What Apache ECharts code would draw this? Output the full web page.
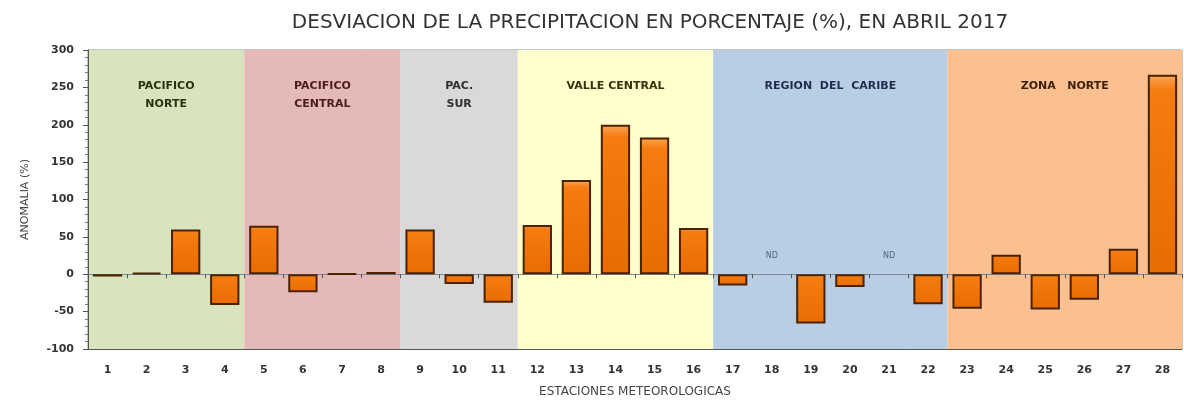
<!DOCTYPE html>
<html>
<head>
<meta charset="utf-8">
<script src="https://cdn.jsdelivr.net/npm/echarts@6/dist/echarts.min.js"></script>
<style>
html, body { margin: 0; padding: 0; background: #fff; }
#chart { width: 1184px; height: 401px; }
</style>
</head>
<body>
<div id="chart"></div>
<script>
// desviacion de la precipitacion (%) por estacion, abril 2017
var estaciones = [];
for (var i = 1; i <= 28; i++) estaciones.push(String(i));

var anomalia = [-3, 2, 60, -41, 65, -24, 1, 3, 60, -13, -38, 66, 126, 200, 183, 62,
                -15, null, -66, -17, null, -40, -46, 26, -47, -34, 34, 267];

// estaciones sin dato
var sinDato = ['18', '21'];
var sinDatoAltura = 25;

// regiones: indice inicial y final (0-based) de estaciones
var regionInicio = [0, 4, 8, 11, 16, 22];
var regionFin = [3, 7, 10, 15, 21, 27];
var regionLinea1 = ['PACIFICO', 'PACIFICO', 'PAC.', 'VALLE CENTRAL', 'REGION  DEL  CARIBE', 'ZONA   NORTE'];
var regionLinea2 = ['NORTE', 'CENTRAL', 'SUR', '', '', ''];
var regionColor = ['#d7e4bd', '#e5b9b7', '#d9d9d9', '#ffffcc', '#b9cde5', '#fac090'];
var regionTexto = ['#27330f', '#4a1c1c', '#2e2e2e', '#3a2e0e', '#1f2d4a', '#3a1e08'];

var chart = echarts.init(document.getElementById('chart'));

option = {
    title: {
        text: 'DESVIACION DE LA PRECIPITACION EN PORCENTAJE (%), EN ABRIL 2017',
        left: 645,
        textAlign: 'center',
        top: 8,
        textStyle: { fontFamily: 'DejaVu Sans', fontSize: 20, fontWeight: 'normal', color: '#333' }
    },
    grid: {
        left: 88, right: 2, top: 50, bottom: 52,
        outerBoundsMode: 'none',
        show: true, borderColor: '#8a8a8a', borderWidth: 1, backgroundColor: 'transparent'
    },
    xAxis: [{
        type: 'category',
        data: estaciones,
        position: 'bottom',
        name: 'ESTACIONES METEOROLOGICAS',
        nameLocation: 'middle',
        nameGap: 37,
        nameTextStyle: { fontFamily: 'DejaVu Sans', fontSize: 12, color: '#444' },
        axisLine: { onZero: false, lineStyle: { color: '#555', width: 1 } },
        axisTick: { show: false },
        axisLabel: { margin: 16, fontFamily: 'DejaVu Sans', fontWeight: 'bold', fontSize: 11, color: '#333' }
    }, {
        type: 'category',
        data: estaciones,
        position: 'bottom',
        axisLine: { onZero: true, lineStyle: { color: '#7d8a99', width: 1 } },
        axisTick: { show: true, length: 4, inside: false, lineStyle: { color: '#555' } },
        axisLabel: { show: false }
    }],
    yAxis: {
        type: 'value',
        min: -100, max: 300, interval: 50,
        name: 'ANOMALIA (%)',
        nameLocation: 'middle',
        nameGap: 57,
        nameTextStyle: { fontFamily: 'DejaVu Sans', fontSize: 11, color: '#444' },
        axisLine: { show: true, lineStyle: { color: '#555' } },
        axisTick: { show: true, length: 5, lineStyle: { color: '#555' } },
        minorTick: { show: true, splitNumber: 5, length: 3, lineStyle: { color: '#777' } },
        splitLine: { show: false },
        axisLabel: { margin: 14, fontFamily: 'DejaVu Sans', fontWeight: 'bold', fontSize: 11, color: '#333' }
    },
    series: [{
        name: 'regiones',
        type: 'custom',
        z: 0,
        silent: true,
        data: regionInicio,
        renderItem: function (params, api) {
            var k = params.dataIndex;
            var bw = api.size([1, 0])[0];
            var x0 = api.coord([regionInicio[k], 300])[0] - bw / 2;
            var x1 = api.coord([regionFin[k], 300])[0] + bw / 2;
            var y0 = api.coord([regionInicio[k], 300])[1];
            var y1 = api.coord([regionInicio[k], -100])[1];
            var cx = (x0 + x1) / 2;
            var font = 'bold 11px "DejaVu Sans"';
            return {
                type: 'group',
                children: [{
                    type: 'rect',
                    shape: { x: x0, y: y0, width: x1 - x0, height: y1 - y0 },
                    style: { fill: regionColor[k] }
                }, {
                    type: 'text',
                    style: { text: regionLinea1[k], x: cx, y: y0 + 36, align: 'center', verticalAlign: 'middle', fill: regionTexto[k], font: font }
                }, {
                    type: 'text',
                    style: { text: regionLinea2[k], x: cx, y: y0 + 54, align: 'center', verticalAlign: 'middle', fill: regionTexto[k], font: font }
                }]
            };
        }
    }, {
        name: 'Anomalia',
        type: 'bar',
        z: 3,
        data: anomalia,
        barCategoryGap: '25%',
        itemStyle: {
            borderColor: '#4a2200',
            borderWidth: 2,
            color: new echarts.graphic.LinearGradient(0, 0, 0, 1, [
                { offset: 0, color: '#fba656' },
                { offset: 0.08, color: '#f57c10' },
                { offset: 1, color: '#e96c00' }
            ])
        }
    }, {
        name: 'ND',
        type: 'scatter',
        z: 4,
        symbolSize: 0,
        data: sinDato.map(function (s) { return [s, sinDatoAltura]; }),
        label: {
            show: true, position: 'inside', formatter: 'ND',
            fontFamily: 'DejaVu Sans', fontSize: 8, color: '#3a4a6a'
        }
    }]
};
chart.setOption(option);
</script>
</body>
</html>
